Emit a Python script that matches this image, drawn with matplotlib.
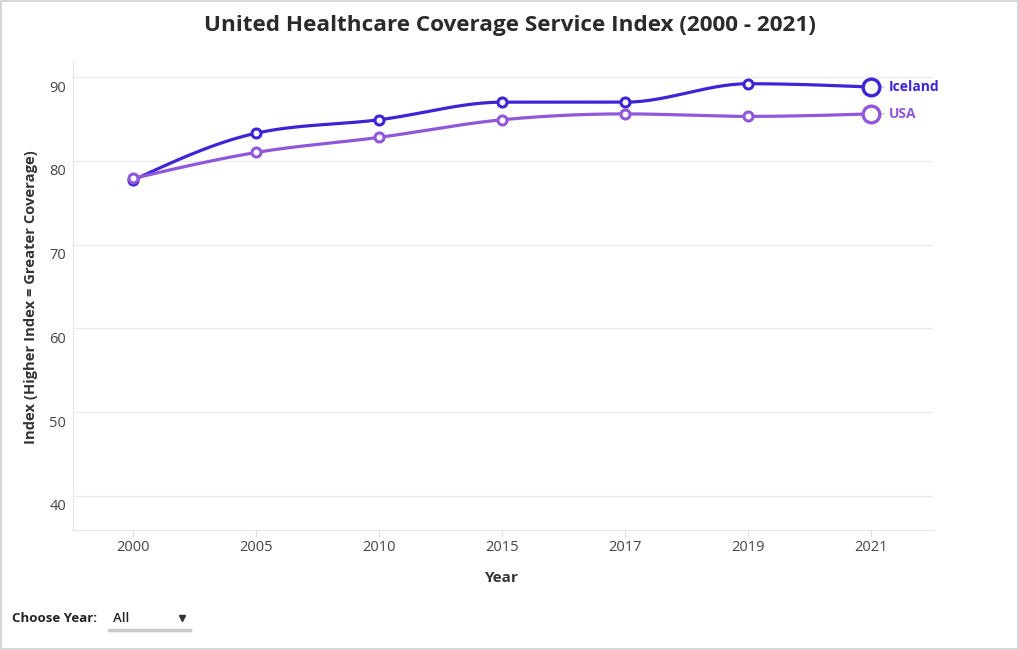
import matplotlib
matplotlib.use("Agg")
import matplotlib.pyplot as plt
import matplotlib.transforms as mtransforms
from matplotlib.lines import Line2D
from matplotlib.patches import Rectangle
import numpy as np

plt.rcParams['font.family'] = ['Open Sans', 'DejaVu Sans']

years = ["2000", "2005", "2010", "2015", "2017", "2019", "2021"]
iceland = [77.7, 83.3, 84.9, 87.0, 87.0, 89.2, 88.8]
usa = [77.9, 81.0, 82.8, 84.9, 85.6, 85.3, 85.6]
series_names = ["Iceland", "USA"]
series_colors = ["#3d24d6", "#9157db"]

title = "United Healthcare Coverage Service Index (2000 - 2021)"
y_label = "Index (Higher Index = Greater Coverage)"
x_label = "Year"
y_ticks = [40, 50, 60, 70, 80, 90]


def monotone_curve(x, y, n=30):
    # d3 curveMonotoneX style interpolation for the drawn line
    x = np.asarray(x, float)
    y = np.asarray(y, float)
    h = np.diff(x)
    s = np.diff(y) / h
    m = np.zeros_like(y)
    for i in range(1, len(y) - 1):
        if s[i - 1] * s[i] <= 0:
            m[i] = 0
        else:
            p = (s[i - 1] * h[i] + s[i] * h[i - 1]) / (h[i - 1] + h[i])
            m[i] = np.sign(s[i - 1]) * min(abs(s[i - 1]), abs(s[i]), 0.5 * abs(p)) * 2
            m[i] = min(abs(m[i]), 3 * min(abs(s[i - 1]), abs(s[i]))) * np.sign(s[i - 1])
    m[0] = (3 * s[0] - m[1]) / 2 if len(y) > 2 else s[0]
    m[-1] = (3 * s[-1] - m[-2]) / 2 if len(y) > 2 else s[-1]
    xs, ys = [], []
    for i in range(len(x) - 1):
        t = np.linspace(0, 1, n)
        h00 = 2 * t**3 - 3 * t**2 + 1
        h10 = t**3 - 2 * t**2 + t
        h01 = -2 * t**3 + 3 * t**2
        h11 = t**3 - t**2
        xs.append(x[i] + t * h[i])
        ys.append(h00 * y[i] + h10 * h[i] * m[i] + h01 * y[i + 1] + h11 * h[i] * m[i + 1])
    return np.concatenate(xs), np.concatenate(ys)


fig = plt.figure(figsize=(10.2, 6.5), dpi=100)
ax = fig.add_axes([73 / 1020, 1 - 530 / 650, 860 / 1020, 470 / 650])

xi = np.arange(len(years))
for vals, name, col in zip([iceland, usa], series_names, series_colors):
    cx, cy = monotone_curve(xi, vals)
    ax.plot(cx, cy, color=col, lw=2.3, zorder=3, solid_capstyle='round')
    ax.plot(xi[:-1], vals[:-1], 'o', ms=6.5, mfc='white', mec=col, mew=2.2, zorder=4)
    ax.plot(xi[-1], vals[-1], 'o', ms=12, mfc='white', mec=col, mew=2.4, zorder=4)
    ax.annotate("", xy=(xi[-1], vals[-1]), xytext=(9, 0), textcoords='offset points',
                arrowprops=dict(arrowstyle='-', color='#cccccc', lw=1,
                                shrinkA=0, shrinkB=7))
    ax.annotate(name, xy=(xi[-1], vals[-1]), xytext=(12.5, 0), textcoords='offset points',
                va='center', ha='left', fontsize=10, fontweight='bold', color=col)

ax.set_xlim(-0.49, 6.5)
ax.set_ylim(35.94, 92.03)
ax.set_xticks(xi)
ax.set_xticklabels(years)
ax.set_yticks(y_ticks)
ax.grid(axis='y', color='#ebebeb', lw=1)
ax.set_axisbelow(True)
for side in ['top', 'right']:
    ax.spines[side].set_visible(False)
for side in ['left', 'bottom']:
    ax.spines[side].set_color('#e6e6e6')
ax.tick_params(axis='x', length=5, color='#e0e0e0', pad=2, labelsize=10.5, labelcolor='#444444')
ax.tick_params(axis='y', length=0, pad=5, labelsize=10.5, labelcolor='#444444')
offset = mtransforms.ScaledTranslation(0, -9 / 100, fig.dpi_scale_trans)
for lab in ax.get_yticklabels():
    lab.set_transform(lab.get_transform() + offset)

fig.text(510 / 1020, 1 - 25 / 650, title, ha='center', va='center',
         fontsize=16.2, fontweight='bold', color='#2b2b2b')
fig.text(31 / 1020, 1 - 297 / 650, y_label, ha='center', va='center', rotation=90,
         fontsize=10.6, fontweight='bold', color='#333333')
fig.text(502 / 1020, 1 - 578 / 650, x_label, ha='center', va='center',
         fontsize=11, fontweight='bold', color='#333333')

# year selector widget
fig.text(12 / 1020, 1 - 618 / 650, "Choose Year:", ha='left', va='center',
         fontsize=9.5, fontweight='bold', color='#222222')
fig.text(113 / 1020, 1 - 619 / 650, "All", ha='left', va='center',
         fontsize=9.5, fontweight='semibold', color='#222222')
fig.lines.append(Line2D([182 / 1020], [1 - 618 / 650], marker='v', ms=5,
                        color='#333333', transform=fig.transFigure))
fig.lines.append(Line2D([109 / 1020, 190 / 1020], [1 - 630 / 650, 1 - 630 / 650],
                        color='#c8c8c8', lw=2.5, transform=fig.transFigure))

fig.patches.append(Rectangle((0.0005, 0.0008), 0.998, 0.998, fill=False,
                             edgecolor='#d0d0d0', lw=1.2, transform=fig.transFigure))

fig.savefig("out.png", dpi=100, facecolor='white')
